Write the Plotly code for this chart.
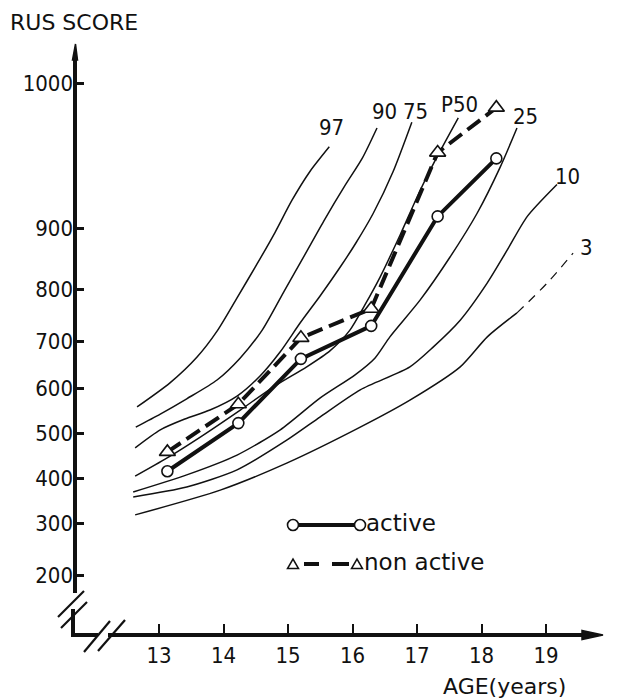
import numpy as np
import plotly.graph_objects as go

# ---------------- data ----------------
tick_scores = [200, 300, 400, 500, 600, 700, 800, 900, 1000]
tick_labels = ["200", "300", "400", "500", "600", "700", "800", "900", "1000"]
age_ticks = [13, 14, 15, 16, 17, 18, 19]
age_labels = ["13", "14", "15", "16", "17", "18", "19"]

group_ages = [13.13, 14.23, 15.20, 16.29, 17.32, 18.23]
active = [415, 522, 662, 729, 908, 948]
non_active = [458, 564, 706, 762, 952, 983]

p97_age = [12.66, 13.17, 13.59, 13.90, 14.21, 14.52, 14.80, 15.06, 15.34, 15.64]
p97 = [558, 611, 666, 719, 783, 841, 893, 919, 939, 956]
p90_age = [12.64, 13.02, 13.43, 13.90, 14.26, 14.60, 14.95, 15.26, 15.57, 15.88, 16.15, 16.38]
p90 = [513, 542, 576, 617, 664, 721, 798, 856, 906, 929, 948, 969]
p75_age = [12.63, 13.02, 13.40, 13.79, 14.21, 14.57, 14.88, 15.19, 15.50, 15.81, 16.05, 16.32, 16.63, 16.92]
p75 = [467, 507, 531, 551, 582, 626, 677, 735, 787, 836, 875, 910, 939, 973]
p50_age = [12.63, 13.12, 13.64, 14.26, 14.77, 15.29, 15.65, 15.96, 16.19, 16.43, 16.74, 17.05, 17.31, 17.64]
p50 = [404, 444, 491, 551, 602, 645, 679, 721, 769, 820, 889, 926, 949, 976]
p25_age = [12.60, 13.43, 14.21, 14.88, 15.50, 16.04, 16.35, 16.58, 17.05, 17.51, 17.93, 18.29, 18.55]
p25 = [369, 407, 451, 507, 578, 628, 664, 708, 779, 852, 910, 942, 969]
p10_age = [12.60, 13.43, 14.21, 14.98, 15.50, 16.12, 16.89, 17.25, 17.67, 18.09, 18.40, 18.71, 19.17]
p10 = [358, 380, 418, 484, 536, 596, 645, 687, 740, 810, 864, 908, 930]
p3_age = [12.63, 13.95, 14.98, 16.12, 16.89, 17.67, 18.09, 18.55]
p3 = [318, 373, 433, 513, 573, 645, 708, 754]
p3_tail_age = [18.55, 19.02, 19.42]
p3_tail = [754, 810, 859]

# ---------------- scale: the chart's y axis is not linear ----------------
tick_pos = [60, 112, 157, 202, 247, 294, 346, 407, 552]   # axis units of each tick


def ys(v):
    return list(np.interp(v, tick_scores, tick_pos))


W, H = 629, 700
L, R, T, B = 74, 29, 45, 65
PW, PH = W - L - R, H - T - B


def px(x):
    return (x - L) / PW


def py(y):
    return (H - B - y) / PH


NUMF = "DejaVu Sans Condensed, DejaVu Sans, sans-serif"
TXTF = "DejaVu Sans, sans-serif"
BLACK = "#111111"

fig = go.Figure()

curves = [
    (p97_age, p97), (p90_age, p90), (p75_age, p75), (p50_age, p50),
    (p25_age, p25), (p10_age, p10), (p3_age, p3),
]
for a, v in curves:
    fig.add_trace(go.Scatter(x=a, y=ys(v), mode="lines",
                             line=dict(color=BLACK, width=1.5, shape="spline", smoothing=0.7),
                             hoverinfo="skip", showlegend=False))
fig.add_trace(go.Scatter(x=p3_tail_age, y=ys(p3_tail), mode="lines",
                         line=dict(color=BLACK, width=1.2, dash="9px,7px", shape="spline"),
                         hoverinfo="skip", showlegend=False))

fig.add_trace(go.Scatter(x=group_ages, y=ys(non_active), mode="lines+markers",
                         line=dict(color=BLACK, width=4, dash="16px,7px"),
                         marker=dict(symbol="triangle-up", size=14, color="white",
                                     line=dict(color=BLACK, width=1.6)),
                         name="non active", showlegend=False))
fig.add_trace(go.Scatter(x=group_ages, y=ys(active), mode="lines+markers",
                         line=dict(color=BLACK, width=4),
                         marker=dict(symbol="circle", size=11, color="white",
                                     line=dict(color=BLACK, width=1.6)),
                         name="active", showlegend=False))

shapes = []


def seg(x0, y0, x1, y1, w=4, dash=None):
    d = dict(type="line", xref="paper", yref="paper", x0=px(x0), y0=py(y0),
             x1=px(x1), y1=py(y1), line=dict(color=BLACK, width=w))
    if dash:
        d["line"]["dash"] = dash
    shapes.append(d)


def poly(pts, fill=BLACK, w=1.5):
    p = "M " + " L ".join(f"{px(a):.5f},{py(b):.5f}" for a, b in pts) + " Z"
    shapes.append(dict(type="path", xref="paper", yref="paper", path=p,
                       fillcolor=fill, line=dict(color=BLACK, width=w)))


# y axis with break and pointed top
seg(75, 593, 75, 58, 4)
poly([(72.5, 60), (77.5, 60), (75.5, 44)])
seg(73, 609, 73, 637, 4)
seg(58, 617, 84, 591, 2.2)
seg(61, 628, 87, 602, 2.2)
# x axis with break and arrow
seg(71, 635, 98, 635, 4)
seg(108, 635, 584, 635, 4)
poly([(582, 630.5), (603, 635), (582, 639.5)])
seg(84, 652, 110, 621, 2.2)
seg(98, 651, 125, 620, 2.2)

# legend samples
seg(293, 525, 360, 525, 4)
for cx in (293, 360):
    shapes.append(dict(type="circle", xref="paper", yref="paper",
                       x0=px(cx - 5.5), x1=px(cx + 5.5), y0=py(525 + 5.5), y1=py(525 - 5.5),
                       fillcolor="white", line=dict(color=BLACK, width=1.6)))
seg(304, 564, 319, 564, 4)
seg(332, 564, 349, 564, 4)
for cx in (293, 357):
    poly([(cx - 5.5, 568.5), (cx + 5.5, 568.5), (cx, 559)], fill="white", w=1.5)

annotations = []


def txt(s, x, y, size=21, xanchor="center", fam=NUMF):
    annotations.append(dict(text=s, x=px(x), y=py(y), xref="paper", yref="paper",
                            showarrow=False, xanchor=xanchor, yanchor="middle",
                            font=dict(family=fam, size=size, color=BLACK)))


txt("RUS SCORE", 8, 22, 22, "left", TXTF)
txt("AGE(years)", 568, 686, 22, "right", TXTF)
txt("97", 331, 127, 22)
txt("90", 384, 112, 22)
txt("75", 415, 111, 22)
txt("P50", 460, 105, 22)
txt("25", 525, 117, 22)
txt("10", 567, 176, 22)
txt("3", 586, 247, 22)
txt("active", 364, 523, 23, "left", TXTF)
txt("non active", 362, 562, 23, "left", TXTF)

fig.update_layout(
    width=W, height=H, margin=dict(l=L, r=R, t=T, b=B, pad=0),
    paper_bgcolor="white", plot_bgcolor="white",
    shapes=shapes, annotations=annotations, showlegend=False,
    font=dict(family=NUMF, size=21, color=BLACK),
    xaxis=dict(range=[13 - (159 - L) / 64.5, 13 + (W - R - 159) / 64.5],
               tickvals=age_ticks, ticktext=age_labels, ticks="inside", ticklen=11,
               tickwidth=2, tickcolor=BLACK, showline=False, showgrid=False,
               zeroline=False, ticklabelstandoff=5,
               tickfont=dict(family=NUMF, size=22, color=BLACK)),
    yaxis=dict(range=[0, PH], tickvals=tick_pos, ticktext=tick_labels, ticks="inside",
               ticklen=10, tickwidth=3, tickcolor=BLACK, showline=False, showgrid=False,
               zeroline=False, tickfont=dict(family=NUMF, size=22, color=BLACK)),
)

fig.write_html("out.html")
